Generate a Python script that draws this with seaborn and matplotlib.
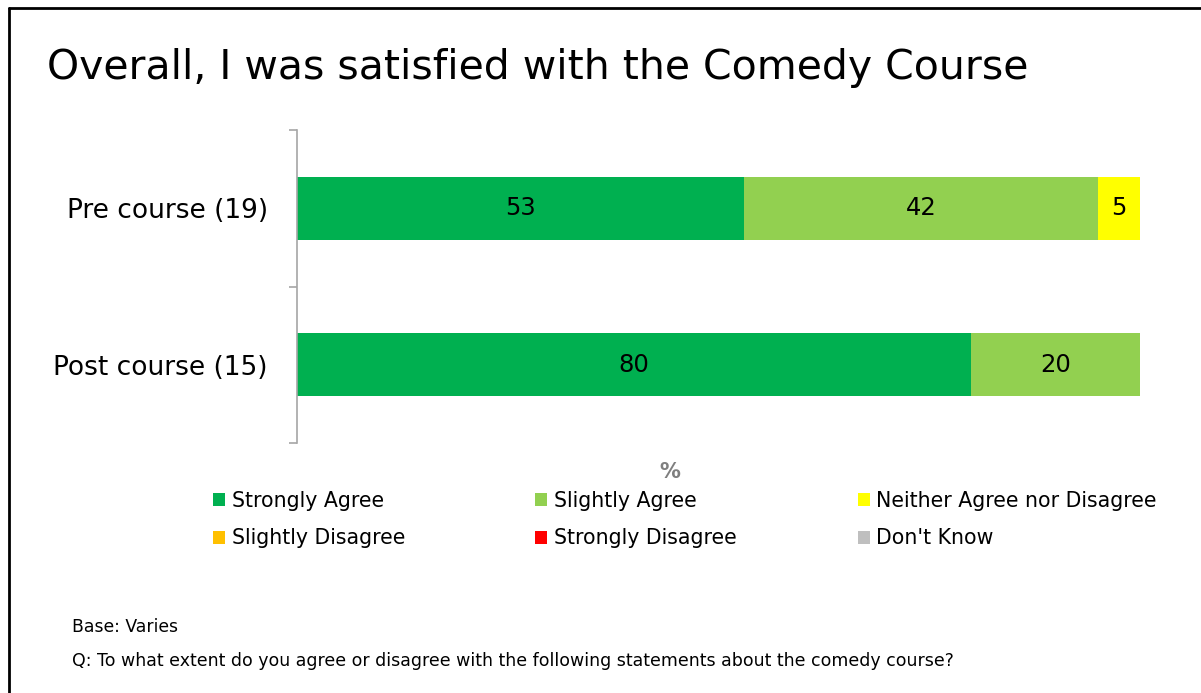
import matplotlib
matplotlib.use("Agg")
import matplotlib.pyplot as plt
from matplotlib.lines import Line2D
from matplotlib.patches import Patch
import numpy as np
import pandas as pd
import seaborn as sns

# Survey responses (% of respondents)
groups = ["Pre course (19)", "Post course (15)"]
levels = ["Strongly Agree", "Slightly Agree", "Neither Agree nor Disagree",
          "Slightly Disagree", "Strongly Disagree", "Don't Know"]
strongly_agree = [53, 80]
slightly_agree = [42, 20]
neither = [5, 0]
slightly_disagree = [0, 0]
strongly_disagree = [0, 0]
dont_know = [0, 0]
colors = ["#00B050", "#92D050", "#FFFF00", "#FFC000", "#FF0000", "#BFBFBF"]

series = [strongly_agree, slightly_agree, neither,
          slightly_disagree, strongly_disagree, dont_know]

sns.set_theme(style="white")
plt.rcParams["font.family"] = ["DejaVu Sans"]
plt.rcParams["text.color"] = "black"

W, H = 1201, 693
fig = plt.figure(figsize=(W / 100, H / 100), dpi=100)
ax = fig.add_axes([297 / W, 1 - 443 / H, 843 / W, 313 / H])

left = np.zeros(len(groups))
for name, vals, col in zip(levels, series, colors):
    vals = np.asarray(vals, dtype=float)
    df = pd.DataFrame({"group": groups, "pct": vals})
    sns.barplot(data=df, x="pct", y="group", orient="y", color=col,
                saturation=1, width=0.4, left=left, ax=ax,
                linewidth=0, errorbar=None)
    for i, v in enumerate(vals):
        if v > 0:
            ax.text(left[i] + v / 2, i, f"{v:g}", ha="center", va="center",
                    fontsize=17.5, color="black")
    left = left + vals

ax.set_xlim(0, 100)
ax.set_ylim(1.5, -0.5)
ax.set_xlabel("")
ax.set_ylabel("")
ax.set_xticks([])
for s in ["top", "right", "bottom"]:
    ax.spines[s].set_visible(False)
ax.spines["left"].set_color("#A6A6A6")
ax.spines["left"].set_linewidth(1.2)
ax.set_yticks([0, 1])
ax.set_yticklabels(groups, fontsize=19, color="black")
ax.tick_params(axis="y", which="major", length=0, pad=21)
ax.set_yticks([-0.5, 0.5, 1.5], minor=True)
ax.tick_params(axis="y", which="minor", left=True, length=6,
               width=1.2, color="#A6A6A6")

fig.text(670 / W, 1 - 472 / H, "%", ha="center", va="center",
         fontsize=15, fontweight="bold", color="#7F7F7F")

# Legend laid out row-wise in three columns
handles = [Patch(facecolor=c, edgecolor="none") for c in colors]
col_x = [213, 535, 858]
for k in range(3):
    idx = [k, k + 3]
    fig.legend([handles[j] for j in idx], [levels[j] for j in idx],
               loc="upper left", bbox_to_anchor=(col_x[k] / W, 1 - 491 / H),
               frameon=False, fontsize=14.8, handlelength=0.6,
               handleheight=0.6, handletextpad=0.3, labelspacing=0.85,
               borderpad=0, borderaxespad=0, labelcolor="black")

fig.text(47 / W, 1 - 68 / H, "Overall, I was satisfied with the Comedy Course",
         ha="left", va="center", fontsize=29.5, color="black")
fig.text(72 / W, 1 - 627 / H, "Base: Varies", ha="left", va="center",
         fontsize=12.4, color="black")
fig.text(72 / W, 1 - 661 / H,
         "Q: To what extent do you agree or disagree with the following statements about the comedy course?",
         ha="left", va="center", fontsize=12.5, color="black")

# Slide frame
fig.add_artist(Line2D([8.5 / W, 8.5 / W], [0, 1 - 7.5 / H],
                      transform=fig.transFigure, color="black", lw=2))
fig.add_artist(Line2D([8.5 / W, 1], [1 - 7.5 / H, 1 - 7.5 / H],
                      transform=fig.transFigure, color="black", lw=2))

fig.savefig("out.png", dpi=100, facecolor="white")
